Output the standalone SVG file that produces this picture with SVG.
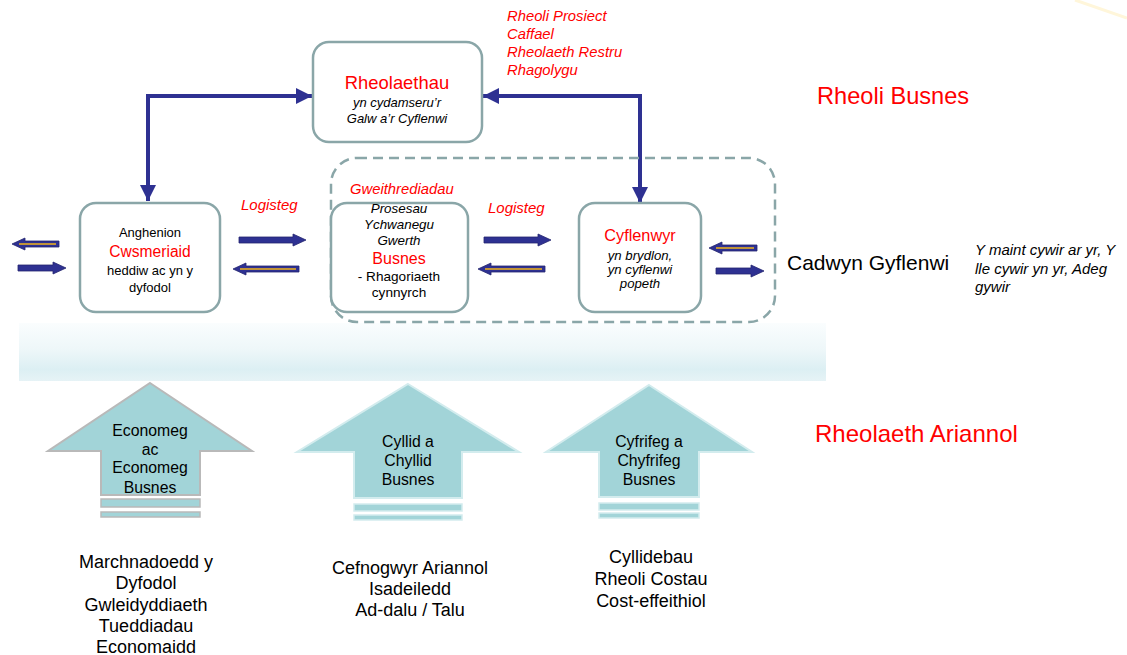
<svg xmlns="http://www.w3.org/2000/svg" width="1127" height="655" viewBox="0 0 1127 655">
<defs>
<linearGradient id="band" x1="0" y1="0" x2="0" y2="1">
<stop offset="0" stop-color="#FAFDFE"/>
<stop offset="0.45" stop-color="#EEF7F9"/>
<stop offset="0.8" stop-color="#DCEFF3"/>
<stop offset="1" stop-color="#E6F3F6"/>
</linearGradient>
<marker id="ah" viewBox="0 0 16 16" refX="16" refY="8" markerWidth="16" markerHeight="16" markerUnits="userSpaceOnUse" orient="auto">
<path d="M0,0 L16,8 L0,16 Z" fill="#2E3192"/>
</marker>
</defs>
<style>
.box{fill:#fff;stroke:#8AA6A8;stroke-width:2.5}
.t{font-family:"Liberation Sans",Arial,sans-serif;text-anchor:middle}
.tl{font-family:"Liberation Sans",Arial,sans-serif}
.red{fill:#FF0000}
.it{font-style:italic}
.conn{fill:none;stroke:#2E3192;stroke-width:4}
.ar{fill:#2E3192;stroke:#23256F;stroke-width:0.8}
.yl{stroke:#F2B41B;stroke-width:1.6}
.up{fill:#A2D4D8}
</style>
<rect width="1127" height="655" fill="#fff"/>
<line x1="1075" y1="0" x2="1127" y2="18" stroke="#FFF6DA" stroke-width="3"/>

<rect x="19" y="323" width="807" height="58" fill="url(#band)"/>

<g id="connectors">
<path class="conn" d="M148,96 H312" marker-end="url(#ah)"/>
<path class="conn" d="M148,96 V201" marker-end="url(#ah)"/>
<path class="conn" d="M640,96 H483" marker-end="url(#ah)"/>
<path class="conn" d="M640,96 V203" marker-end="url(#ah)"/>
<line class="conn" x1="146" y1="96" x2="150" y2="96"/>
<line class="conn" x1="638" y1="96" x2="642" y2="96"/>
<!-- right-pointing navy arrows -->
<polygon class="ar" points="239,237 293,237 293,234 306,240 293,246 293,243 239,243"/>
<polygon class="ar" points="484,237 538,237 538,234 551,240 538,246 538,243 484,243"/>
<polygon class="ar" points="18,265 53,265 53,262 66,268 53,274 53,271 18,271"/>
<polygon class="ar" points="716,268 751,268 751,265 764,271 751,277 751,274 716,274"/>
<!-- left-pointing arrows with yellow core -->
<polygon class="ar" points="299,266 246,266 246,263 233,269 246,275 246,272 299,272"/>
<line class="yl" x1="296" y1="269" x2="240" y2="269"/>
<polygon class="ar" points="545,266 491,266 491,263 478,269 491,275 491,272 545,272"/>
<line class="yl" x1="542" y1="269" x2="485" y2="269"/>
<polygon class="ar" points="59,241 25,241 25,238 12,244 25,250 25,247 59,247"/>
<line class="yl" x1="56" y1="244" x2="19" y2="244"/>
<polygon class="ar" points="757,245 722,245 722,242 709,248 722,254 722,251 757,251"/>
<line class="yl" x1="754" y1="248" x2="716" y2="248"/>
</g>

<g id="operations-group">
<rect x="331" y="158" width="444" height="164" rx="26" fill="none" stroke="#8AA6A8" stroke-width="2.5" stroke-dasharray="10,6"/>
<text class="tl red it" x="350" y="194" font-size="14.8">Gweithrediadau</text>
</g>

<g id="rheolaethau">
<rect class="box" x="313" y="42" width="169" height="100" rx="16"/>
<text class="t red" x="397" y="89" font-size="18.4">Rheolaethau</text>
<text class="t it" x="397" y="107" font-size="13">yn cydamseru’r</text>
<text class="t it" x="397" y="123" font-size="13">Galw a’r Cyflenwi</text>
</g>

<g id="tasks">
<text class="tl red it" x="507" y="21" font-size="14.8">Rheoli Prosiect</text>
<text class="tl red it" x="507" y="39" font-size="14.8">Caffael</text>
<text class="tl red it" x="507" y="57" font-size="14.8">Rheolaeth Restru</text>
<text class="tl red it" x="507" y="75" font-size="14.8">Rhagolygu</text>
</g>

<g id="cwsmeriaid">
<rect class="box" x="80" y="203" width="140" height="109" rx="16"/>
<text class="t" x="150" y="237" font-size="13">Anghenion</text>
<text class="t red" x="150" y="257" font-size="15.6">Cwsmeriaid</text>
<text class="t" x="150" y="275" font-size="13">heddiw ac yn y</text>
<text class="t" x="150" y="292" font-size="13">dyfodol</text>
</g>

<g id="busnes">
<rect class="box" x="331" y="203" width="137" height="109" rx="16"/>
<text class="t it" x="399" y="213" font-size="13.4">Prosesau</text>
<text class="t it" x="399" y="229" font-size="13.4">Ychwanegu</text>
<text class="t it" x="399" y="245" font-size="13.4">Gwerth</text>
<text class="t red" x="399" y="264" font-size="16">Busnes</text>
<text class="t" x="399" y="281" font-size="13.6">- Rhagoriaeth</text>
<text class="t" x="399" y="297" font-size="13.6">cynnyrch</text>
</g>

<g id="cyflenwyr">
<rect class="box" x="579" y="203" width="122" height="109" rx="16"/>
<text class="t red" x="640" y="241" font-size="16.3">Cyflenwyr</text>
<text class="t it" x="640" y="260" font-size="13.2">yn brydlon,</text>
<text class="t it" x="640" y="274" font-size="13.2">yn cyflenwi</text>
<text class="t it" x="640" y="288" font-size="13.2">popeth</text>
</g>

<g id="logisteg-labels">
<text class="tl red it" x="241" y="210" font-size="15">Logisteg</text>
<text class="tl red it" x="488" y="213" font-size="15">Logisteg</text>
</g>

<g id="side-labels">
<text class="tl red" x="817" y="104" font-size="23.6">Rheoli Busnes</text>
<text class="tl" x="787" y="270" font-size="21">Cadwyn Gyflenwi</text>
<text class="tl it" x="975" y="255" font-size="15">Y maint cywir ar yr, Y</text>
<text class="tl it" x="975" y="274" font-size="15">lle cywir yn yr, Adeg</text>
<text class="tl it" x="975" y="292" font-size="15">gywir</text>
<text class="tl red" x="815" y="442" font-size="24">Rheolaeth Ariannol</text>
</g>

<g id="economeg">
<polygon class="up" points="150,383 252,451 200,451 200,495 101,495 101,451 48,451" stroke="#B9B9B9" stroke-width="2"/>
<rect x="101" y="499" width="99" height="8" fill="#A2D4D8" stroke="#B9B9B9" stroke-width="1.5"/>
<rect x="101" y="512" width="99" height="5" fill="#A2D4D8" stroke="#B9B9B9" stroke-width="1.5"/>
<text class="t" x="150" y="436" font-size="15.8">Economeg</text>
<text class="t" x="150" y="455" font-size="15.8">ac</text>
<text class="t" x="150" y="473" font-size="15.8">Economeg</text>
<text class="t" x="150" y="493" font-size="15.8">Busnes</text>
<text class="t" x="146" y="568" font-size="18">Marchnadoedd y</text>
<text class="t" x="146" y="589" font-size="18">Dyfodol</text>
<text class="t" x="146" y="611" font-size="18">Gwleidyddiaeth</text>
<text class="t" x="146" y="632" font-size="18">Tueddiadau</text>
<text class="t" x="146" y="653" font-size="18">Economaidd</text>
</g>

<g id="cyllid">
<polygon class="up" points="408,384 519,452 462,452 462,498 354,498 354,452 297,452" stroke="#D3ECEE" stroke-width="2"/>
<rect x="354" y="504" width="108" height="7" fill="#A2D4D8" stroke="#D3ECEE" stroke-width="1.5"/>
<rect x="354" y="515" width="108" height="5" fill="#A2D4D8" stroke="#D3ECEE" stroke-width="1.5"/>
<text class="t" x="408" y="447" font-size="15.8">Cyllid a</text>
<text class="t" x="408" y="466" font-size="15.8">Chyllid</text>
<text class="t" x="408" y="485" font-size="15.8">Busnes</text>
<text class="t" x="410" y="574" font-size="18">Cefnogwyr Ariannol</text>
<text class="t" x="410" y="595" font-size="18">Isadeiledd</text>
<text class="t" x="410" y="616" font-size="18">Ad-dalu / Talu</text>
</g>

<g id="cyfrifeg">
<polygon class="up" points="649,385 752,452 699,452 699,497 599,497 599,452 546,452" stroke="#D3ECEE" stroke-width="2"/>
<rect x="599" y="503" width="100" height="7" fill="#A2D4D8" stroke="#D3ECEE" stroke-width="1.5"/>
<rect x="599" y="513" width="100" height="5" fill="#A2D4D8" stroke="#D3ECEE" stroke-width="1.5"/>
<text class="t" x="649" y="447" font-size="15.8">Cyfrifeg a</text>
<text class="t" x="649" y="466" font-size="15.8">Chyfrifeg</text>
<text class="t" x="649" y="485" font-size="15.8">Busnes</text>
<text class="t" x="651" y="563" font-size="18">Cyllidebau</text>
<text class="t" x="651" y="585" font-size="18">Rheoli Costau</text>
<text class="t" x="651" y="607" font-size="18">Cost-effeithiol</text>
</g>
</svg>
